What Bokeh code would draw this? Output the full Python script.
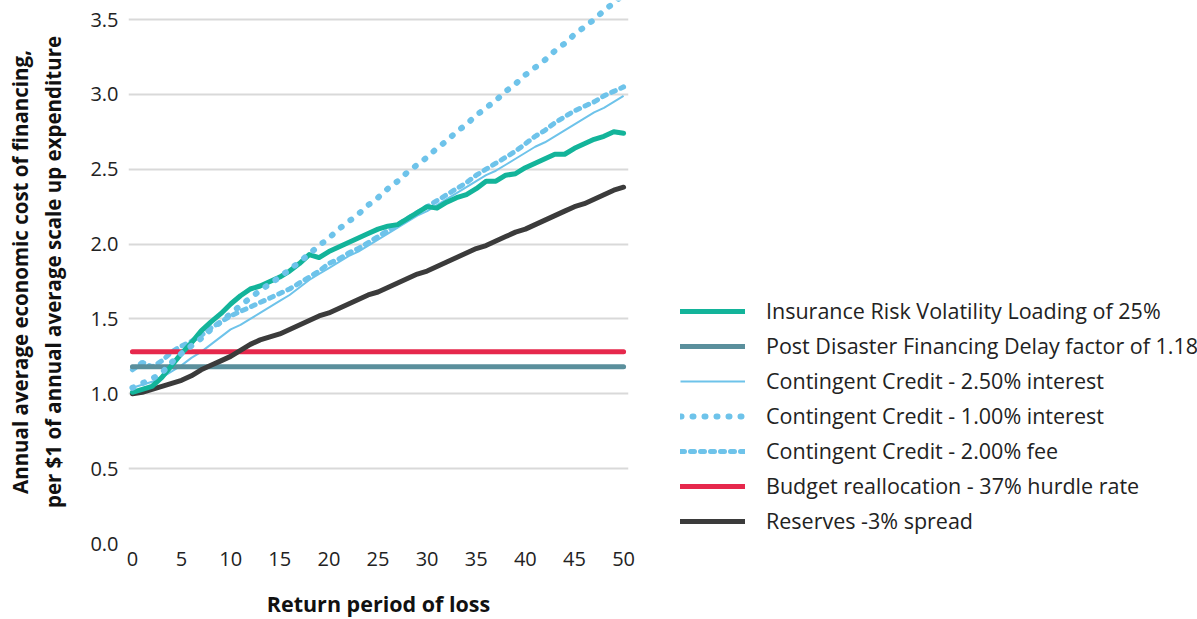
from bokeh.plotting import figure
from bokeh.models import Legend, LegendItem, Range1d, FixedTicker, NumeralTickFormatter
from bokeh.embed import file_html
from bokeh.resources import INLINE

years = list(range(0, 51))

insurance = [1.01, 1.03, 1.05, 1.11, 1.19, 1.27, 1.34, 1.42, 1.48, 1.535, 1.60, 1.655, 1.70, 1.72, 1.75,
             1.78, 1.82, 1.87, 1.93, 1.91, 1.95, 1.98, 2.01, 2.04, 2.07, 2.10, 2.12, 2.13, 2.17, 2.21,
             2.25, 2.24, 2.28, 2.31, 2.33, 2.37, 2.42, 2.42, 2.46, 2.47, 2.51, 2.54, 2.57, 2.60, 2.60,
             2.64, 2.67, 2.70, 2.72, 2.75, 2.74]
post_disaster = [1.18] * 51
credit_250 = [1.04, 1.06, 1.08, 1.11, 1.15, 1.19, 1.24, 1.28, 1.33, 1.38, 1.43, 1.46, 1.50, 1.54, 1.58,
              1.62, 1.66, 1.71, 1.76, 1.80, 1.84, 1.88, 1.92, 1.95, 1.99, 2.03, 2.07, 2.11, 2.15, 2.19,
              2.22, 2.26, 2.30, 2.34, 2.38, 2.42, 2.46, 2.49, 2.53, 2.57, 2.61, 2.65, 2.68, 2.72, 2.76,
              2.80, 2.84, 2.88, 2.91, 2.95, 2.99]
credit_100 = [1.04, 1.07, 1.10, 1.14, 1.21, 1.27, 1.32, 1.37, 1.43, 1.48, 1.535, 1.59, 1.64, 1.69, 1.735,
              1.78, 1.83, 1.88, 1.935, 1.99, 2.04, 2.10, 2.15, 2.20, 2.26, 2.31, 2.37, 2.42, 2.48, 2.53,
              2.58, 2.64, 2.69, 2.75, 2.80, 2.86, 2.91, 2.96, 3.02, 3.07, 3.13, 3.18, 3.23, 3.29, 3.34,
              3.40, 3.45, 3.50, 3.56, 3.61, 3.67]
credit_fee = [1.16, 1.21, 1.18, 1.22, 1.28, 1.32, 1.35, 1.39, 1.44, 1.48, 1.52, 1.55, 1.58, 1.61, 1.64,
              1.67, 1.70, 1.74, 1.78, 1.82, 1.87, 1.90, 1.94, 1.97, 2.01, 2.05, 2.09, 2.13, 2.17, 2.21,
              2.25, 2.29, 2.33, 2.37, 2.41, 2.46, 2.50, 2.54, 2.58, 2.62, 2.67, 2.72, 2.76, 2.81, 2.85,
              2.89, 2.92, 2.95, 2.99, 3.02, 3.05]
budget = [1.28] * 51
reserves = [1.00, 1.01, 1.03, 1.05, 1.07, 1.09, 1.12, 1.16, 1.19, 1.22, 1.25, 1.29, 1.33, 1.36, 1.38,
            1.40, 1.43, 1.46, 1.49, 1.52, 1.54, 1.57, 1.60, 1.63, 1.66, 1.68, 1.71, 1.74, 1.77, 1.80,
            1.82, 1.85, 1.88, 1.91, 1.94, 1.97, 1.99, 2.02, 2.05, 2.08, 2.10, 2.13, 2.16, 2.19, 2.22,
            2.25, 2.27, 2.30, 2.33, 2.36, 2.38]

labels = ["Insurance Risk Volatility Loading of 25%",
          "Post Disaster Financing Delay factor of 1.18",
          "Contingent Credit - 2.50% interest",
          "Contingent Credit - 1.00% interest",
          "Contingent Credit - 2.00% fee",
          "Budget reallocation - 37% hurdle rate",
          "Reserves -3% spread"]

x_ticks = [0, 5, 10, 15, 20, 25, 30, 35, 40, 45, 50]
y_ticks = [0.0, 0.5, 1.0, 1.5, 2.0, 2.5, 3.0, 3.5]

FONT = "Open Sans"

p = figure(frame_width=500, frame_height=543, output_backend="svg", toolbar_location=None,
           x_range=Range1d(-0.4, 50.5), y_range=Range1d(0, 3.627),
           min_border_left=128, min_border_right=0, min_border_top=0, min_border_bottom=76)
p.outline_line_color = None
p.background_fill_color = "white"

for ax in (p.xaxis[0], p.yaxis[0]):
    ax.axis_line_color = None
    ax.major_tick_line_color = None
    ax.minor_tick_line_color = None
    ax.major_tick_out = 0
    ax.major_tick_in = 0
    ax.major_label_text_font = FONT
    ax.major_label_text_font_size = "20px"
    ax.major_label_text_color = "#222222"
    ax.axis_label_text_font = FONT
    ax.axis_label_text_font_style = "bold"
    ax.axis_label_text_color = "#111111"

p.xaxis.axis_label_text_font_size = "21.5px"
p.yaxis.axis_label_text_font_size = "20.5px"
p.xaxis.ticker = FixedTicker(ticks=x_ticks)
p.yaxis.ticker = FixedTicker(ticks=y_ticks)
p.yaxis.formatter = NumeralTickFormatter(format="0.0")
p.xaxis.axis_label = "Return period of loss"
p.yaxis.axis_label = "Annual average economic cost of financing,\nper $1 of annual average scale up expenditure"
p.yaxis.major_label_standoff = 10
p.xaxis.major_label_standoff = 8
p.yaxis.axis_label_standoff = 20
p.xaxis.axis_label_standoff = 20

p.xgrid.grid_line_color = None
p.ygrid.grid_line_color = "#d9d9d9"
p.ygrid.grid_line_width = 2

teal = "#13b49a"
steel = "#5a8f9c"
light = "#6ec3ea"
red = "#e6284c"
dark = "#3b3b3b"

r_fee = p.line(years, credit_fee, line_color=light, line_width=5, line_dash="4 6", line_cap="round")
r_250 = p.line(years, credit_250, line_color=light, line_width=2)
r_post = p.line(years, post_disaster, line_color=steel, line_width=5, line_cap="round")
r_budget = p.line(years, budget, line_color=red, line_width=5, line_cap="round")
r_res = p.line(years, reserves, line_color=dark, line_width=5, line_cap="round", line_join="round")
r_ins = p.line(years, insurance, line_color=teal, line_width=5, line_cap="round", line_join="round")
r_100 = p.line(years, credit_100, line_color=light, line_width=6, line_dash="1 11", line_cap="round")

renderers = [r_ins, r_post, r_250, r_100, r_fee, r_budget, r_res]
legend = Legend(items=[LegendItem(label=l, renderers=[r]) for l, r in zip(labels, renderers)],
                location=(52, 8))
legend.border_line_color = None
legend.background_fill_alpha = 0
legend.padding = 0
legend.margin = 0
legend.glyph_width = 65
legend.glyph_height = 24
legend.label_height = 24
legend.spacing = 6
legend.label_standoff = 21
legend.label_text_font = FONT
legend.label_text_font_size = "21.5px"
legend.label_text_color = "#222222"
p.add_layout(legend, "right")

open("out.html", "w").write(file_html(p, INLINE))
